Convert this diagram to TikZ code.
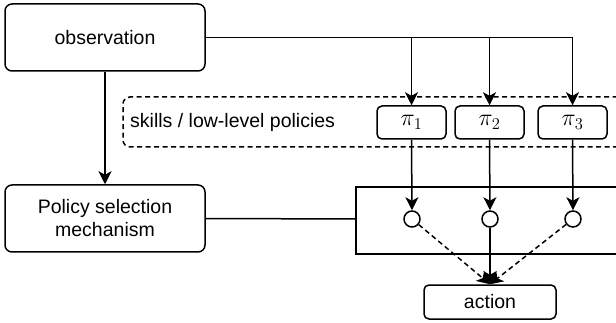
\documentclass[tikz,border=0pt]{standalone}
\usepackage{graphicx}
\usepackage{fontspec}
\setmainfont{Liberation Sans}
\usetikzlibrary{arrows.meta}

\newcommand{\skillname}[1]{\scalebox{1.15}{$\pi_{#1}$}}

\tikzset{
  box/.style={draw, line width=1.5pt, rounded corners=7pt, minimum width=200pt, minimum height=67pt,
              align=center, inner sep=0pt, font=\fontsize{19.5}{23}\selectfont},
  pibox/.style={draw, line width=1.5pt, rounded corners=5pt, minimum width=69pt, minimum height=33pt,
                inner sep=0pt, font=\fontsize{20}{24}\selectfont},
  actbox/.style={draw, line width=1.5pt, rounded corners=5pt, minimum width=132pt, minimum height=34pt,
                 inner sep=0pt, font=\fontsize{19.5}{23}\selectfont},
  gate/.style={draw, line width=1.5pt, circle, minimum size=16pt, inner sep=0pt, fill=white},
  link/.style={line width=1.5pt},
  arr/.style={line width=1.5pt, -{Stealth[length=13pt, width=13pt, inset=3.5pt]}},
  dashlink/.style={arr, dash pattern=on 5pt off 3.5pt},
}

\begin{document}
\begin{tikzpicture}[x=1pt, y=-1pt]
  \useasboundingbox (0,0) rectangle (616,323);
  \clip (0,0) rectangle (616,323);

  % dashed frame holding the low-level skills
  \draw[line width=1.5pt, dash pattern=on 5pt off 3.5pt, rounded corners=7pt]
    (660,97) -- (123,97) -- (123,147) -- (660,147);
  \node[anchor=west, inner sep=0pt, font=\fontsize{19.5}{23}\selectfont] (skl) at (130,122) {skills / low-level policies};

  % selection frame, open to the right
  \draw[link] (660,187) -- (356,187) -- (356,254) -- (660,254);
  \coordinate (selw) at (356,219);

  \node[box] (obs) at (105,37.5) {observation};
  \node[box] (pol) at (105,218.5) {Policy selection\\mechanism};

  \node[pibox] (p1) at (411.5,122.5) {\skillname{1}};
  \node[pibox] (p2) at (489.5,122.5) {\skillname{2}};
  \node[pibox] (p3) at (572.5,122.5) {\skillname{3}};

  \node[gate] (c1) at (412,219) {};
  \node[gate] (c2) at (490,219) {};
  \node[gate] (c3) at (573,219) {};

  \node[actbox] (act) at (490,302) {action};

  % observation feeds every skill and the selector
  \draw[arr] (obs.east) -| (p3.north);
  \draw[arr] (obs.east -| p1.north) -- (p1.north);
  \draw[arr] (obs.east -| p2.north) -- (p2.north);
  \draw[arr] (obs.south) -- (pol.north);

  \draw[link] (pol.east) -- (selw);

  \draw[arr] (p1.south) -- (c1.north);
  \draw[arr] (p2.south) -- (c2.north);
  \draw[arr] (p3.south) -- (c3.north);

  \draw[dashlink] (c1) -- (act.north);
  \draw[arr] (c2.south) -- (act.north);
  \draw[dashlink] (c3) -- (act.north);
\end{tikzpicture}
\end{document}
